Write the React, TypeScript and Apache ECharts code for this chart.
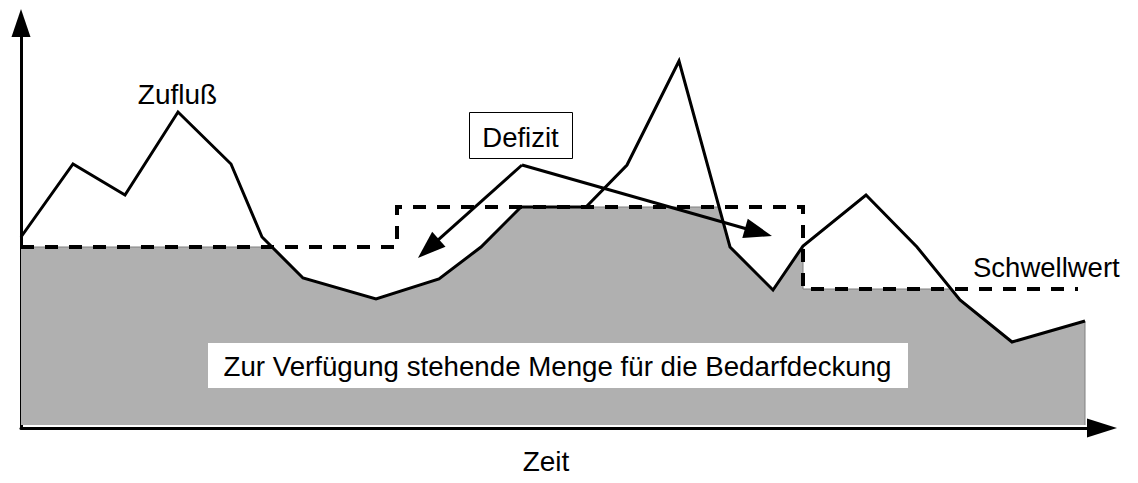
import React, { useEffect, useRef } from "react";
import * as echarts from "echarts";

// Time axis units (arbitrary), quantity units (arbitrary)
const zuflussX = [0, 5.2, 10.4, 15.7, 21, 24.1, 28.2, 35.5, 41.8, 46, 50, 56.5, 60.6, 65.8, 70.9, 75.2, 78.2, 84.5, 89.6, 93.9, 99.1, 106.4];
const zuflussY = [47, 65.25, 57.5, 78.25, 65.25, 47, 36.75, 31.5, 36.5, 44.5, 54.5, 54.5, 65, 91, 44.5, 33.75, 44.75, 57.5, 44.5, 31.25, 20.75, 26];

const schwellX = [0, 37.6, 37.6, 78.2, 78.2, 105.7];
const schwellY = [44.5, 44.5, 54.5, 54.5, 34, 34];

const mengeX = [0, 25.1, 28.2, 35.5, 41.8, 46, 50, 69.8, 70.9, 75.2, 78.2, 78.2, 93, 93.9, 99.1, 106.4, 106.4];
const mengeY = [44.5, 44.5, 36.75, 31.5, 36.5, 44.5, 54.5, 54.5, 44.5, 33.75, 44.75, 34, 34, 31.25, 20.75, 26, 0];

// Defizit arrows: common start and arrow-head centres
const defizitStart = [50.1, 65];
const defizitEnds = [
  [40.74, 44.1],
  [73.75, 48.2],
];

const labels = {
  zufluss: "Zufluß",
  defizit: "Defizit",
  schwell: "Schwellwert",
  menge: "Zur Verfügung stehende Menge für die Bedarfdeckung",
  zeit: "Zeit",
};

const FONT = "'Liberation Sans', Arial, sans-serif";

const zip = (xs: number[], ys: number[]) => xs.map((x, i) => [x, ys[i]]);

export default function App() {
  const ref = useRef<HTMLDivElement>(null);
  useEffect(() => {
    if (!ref.current) return;
    const chart = echarts.init(ref.current, undefined, { renderer: "svg" });
    const textStyle = (size: number) => ({ fontFamily: FONT, fontSize: size, fill: "#000" });
    chart.setOption({
      animation: false,
      backgroundColor: "#fff",
      grid: { left: 21, top: 23, right: 36, bottom: 55 },
      xAxis: {
        type: "value",
        min: 0,
        max: 108.1,
        axisLine: {
          onZero: false,
          lineStyle: { color: "#000", width: 3 },
          symbol: ["none", "triangle"],
          symbolSize: [19, 30],
        },
        axisTick: { show: false },
        axisLabel: { show: false },
        splitLine: { show: false },
      },
      yAxis: {
        type: "value",
        min: -0.75,
        max: 100.5,
        axisLine: {
          show: true,
          onZero: false,
          lineStyle: { color: "#000", width: 3 },
          symbol: ["none", "triangle"],
          symbolSize: [19, 28],
        },
        axisTick: { show: false },
        axisLabel: { show: false },
        splitLine: { show: false },
      },
      series: [
        {
          name: "Menge",
          type: "line",
          data: zip(mengeX, mengeY),
          symbol: "none",
          lineStyle: { color: "#808080", width: 1 },
          areaStyle: { color: "#b0b0b0", opacity: 1 },
          z: 1,
        },
        {
          name: "Zufluß",
          type: "line",
          data: zip(zuflussX, zuflussY),
          symbol: "none",
          lineStyle: { color: "#000", width: 3, join: "miter" },
          z: 3,
        },
        {
          name: "Schwellwert",
          type: "line",
          data: zip(schwellX, schwellY),
          symbol: "none",
          lineStyle: { color: "#000", width: 4, type: [13, 11], cap: "butt", join: "miter" },
          z: 4,
          markLine: {
            silent: true,
            symbol: ["none", "triangle"],
            symbolSize: [20, 28],
            label: { show: false },
            lineStyle: { color: "#000", width: 3, type: "solid" },
            data: defizitEnds.map((e) => [{ coord: defizitStart }, { coord: e }]),
          },
        },
      ],
      graphic: [
        {
          type: "text",
          z: 100,
          x: 177.5,
          y: 94,
          style: { ...textStyle(28), text: labels.zufluss, align: "center", verticalAlign: "middle" },
        },
        {
          type: "rect",
          z: 100,
          shape: { x: 469.5, y: 112.5, width: 103, height: 46 },
          style: { fill: "#fff", stroke: "#000", lineWidth: 1 },
        },
        {
          type: "text",
          z: 101,
          x: 520.5,
          y: 137,
          style: { ...textStyle(27.5), text: labels.defizit, align: "center", verticalAlign: "middle" },
        },
        {
          type: "text",
          z: 100,
          x: 973,
          y: 267,
          style: { ...textStyle(27.5), text: labels.schwell, align: "left", verticalAlign: "middle" },
        },
        {
          type: "rect",
          z: 100,
          shape: { x: 208, y: 343, width: 700, height: 45 },
          style: { fill: "#fff" },
        },
        {
          type: "text",
          z: 101,
          x: 557.5,
          y: 366,
          style: { ...textStyle(27.7), text: labels.menge, align: "center", verticalAlign: "middle" },
        },
        {
          type: "text",
          z: 100,
          x: 546,
          y: 461,
          style: { ...textStyle(28), text: labels.zeit, align: "center", verticalAlign: "middle" },
        },
      ],
    });
    return () => chart.dispose();
  }, []);
  return (
    <div
      ref={ref}
      style={{ position: "fixed", left: 0, top: 0, width: 1138, height: 483 }}
    />
  );
}
